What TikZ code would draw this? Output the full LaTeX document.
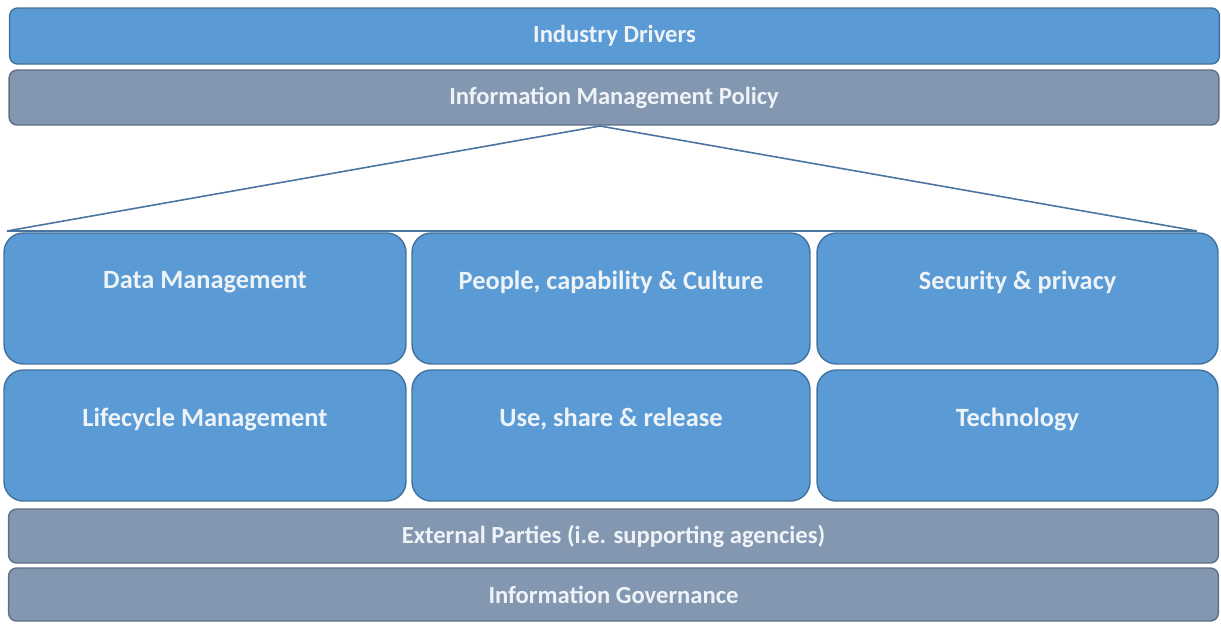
\documentclass[tikz,border=0pt]{standalone}
\usepackage{fontspec}
\setmainfont{Carlito}
\usetikzlibrary{positioning}
\definecolor{barBlue}{HTML}{5B9BD5}
\definecolor{barBlueLine}{HTML}{41719C}
\definecolor{barGray}{HTML}{8497B0}
\definecolor{barGrayLine}{HTML}{5F6F85}
\definecolor{txtLight}{HTML}{EEF3F8}
\definecolor{lineBlue}{HTML}{4A74A0}

\begin{document}
\begin{tikzpicture}[x=0.02cm, y=-0.02cm,
	bar/.style={rectangle, rounded corners=4.5pt, draw=barGrayLine, fill=barGray, line width=0.8pt, text=txtLight, font=\bfseries\fontsize{14}{16}\selectfont, minimum width=24.2cm, inner sep=0pt},
	bluebar/.style={bar, draw=barBlueLine, fill=barBlue},
	tile/.style={rectangle, rounded corners=11pt, draw=barBlueLine, fill=barBlue, line width=0.8pt, minimum height=2.62cm, inner sep=0pt},
	tiletext/.style={anchor=center, yshift=-1cm, text=txtLight, font=\bfseries\fontsize{15}{17}\selectfont}]
	
	\useasboundingbox (0,0) rectangle (1221,623);
	
	%Barre in alto
	\node (industryDrivers) at (614.5,36) [bluebar, minimum height=1.12cm] {Industry Drivers};
	\node (infoPolicy) at (614,97.5) [bar, minimum height=1.1cm] {Information Management Policy};
	
	%Riquadri centrali
	\node (dataMgmt) at (205,298.5) [tile, minimum width=8.04cm, label={[tiletext]north:Data Management}] {};
	\node (peopleCulture) at (611,298.5) [tile, minimum width=7.96cm, label={[tiletext]north:People, capability \& Culture}] {};
	\node (securityPrivacy) at (1017.5,298.5) [tile, minimum width=8.02cm, label={[tiletext]north:Security \& privacy}] {};
	\node (lifecycleMgmt) at (205,435.5) [tile, minimum width=8.04cm, label={[tiletext]north:Lifecycle Management}] {};
	\node (useShare) at (611,435.5) [tile, minimum width=7.96cm, label={[tiletext]north:Use, share \& release}] {};
	\node (technology) at (1017.5,435.5) [tile, minimum width=8.02cm, label={[tiletext]north:Technology}] {};
	
	%Barre in basso
	\node (externalParties) at (613.5,536) [bar, minimum height=1.08cm] {External Parties (i.e. supporting agencies)};
	\node (infoGovernance) at (613.5,594.5) [bar, minimum height=1.06cm] {Information Governance};
	
	%Triangolo
	\coordinate (apex) at (600,126);
	\coordinate (leftCorner) at (7,231);
	\coordinate (rightCorner) at (1197,231);
	\draw[lineBlue, line width=0.9pt] (apex) -- (leftCorner) -- (rightCorner) -- cycle;
	
\end{tikzpicture}
\end{document}
